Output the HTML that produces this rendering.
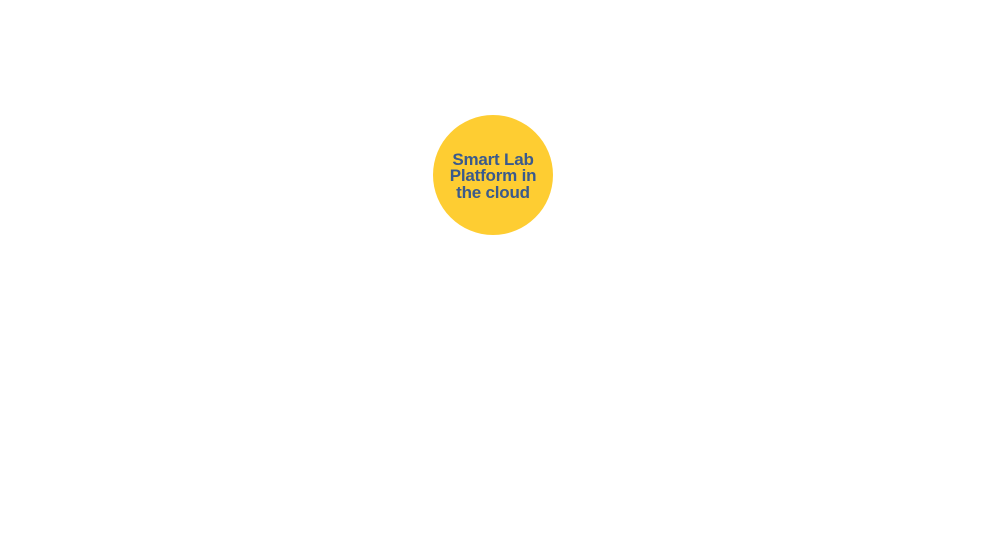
<!DOCTYPE html>
<html><head><style>
html,body{margin:0;padding:0;background:#fff;width:988px;height:543px;overflow:hidden}
.c{position:absolute;left:433px;top:115px;width:120px;height:120px;border-radius:50%;background:#fecd32;display:flex;align-items:center;justify-content:center;text-align:center;font-family:"Liberation Sans",sans-serif;font-weight:bold;font-size:17px;line-height:16.5px;color:#3a5a8c}
.c div{margin-top:3px;letter-spacing:-0.2px}
</style></head><body>
<div class="c"><div>Smart Lab<br>Platform in<br>the cloud</div></div>
</body></html>
